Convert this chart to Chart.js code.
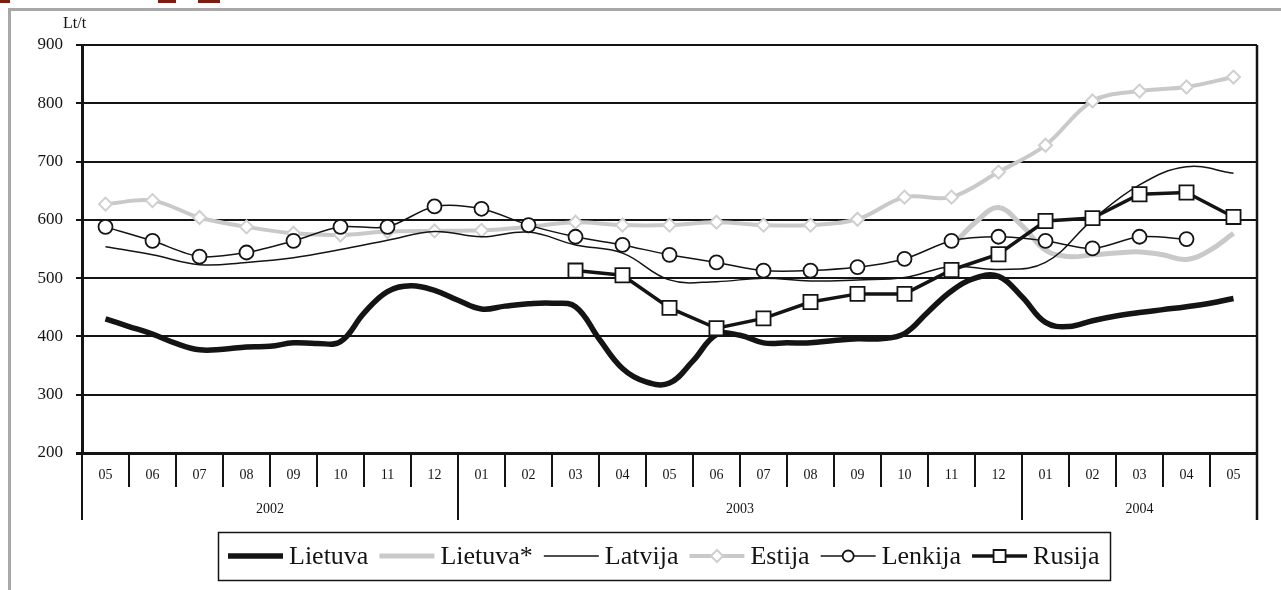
<!DOCTYPE html>
<html>
<head>
<meta charset="utf-8">
<script src="https://cdn.jsdelivr.net/npm/chart.js@4"></script>
<style>
  html, body { margin: 0; padding: 0; background: #fff; }
  #chart { display: block; }
</style>
</head>
<body>
<canvas id="chart" width="1281" height="590"></canvas>
<script>
// Months 2002-05 .. 2004-05
const months = ['05', '06', '07', '08', '09', '10', '11', '12',
    '01', '02', '03', '04', '05', '06', '07', '08', '09', '10', '11', '12',
    '01', '02', '03', '04', '05'];
const yearLabels = ['2002', '2003', '2004'];
const yearStarts = [0, 8, 20];   // index of the first month of each year
const yTicks = [200, 300, 400, 500, 600, 700, 800, 900];

// Lietuva is given twice a month (first value at 2002-05)
const lietuva = [430, 417, 404, 388, 377, 378, 382, 383, 389, 388, 391, 440, 477, 487, 479, 462,
    447, 452, 456, 457, 451, 396, 345, 322, 320, 358, 403, 402, 389, 389, 389, 393,
    396, 396, 405, 442, 478, 500, 503, 468, 424, 417, 427, 435, 441, 446, 451, 457, 465];
// Lietuva* twice a month, starts at 2003-11
const lietuvaStarStart = 18;
const lietuvaStar = [554, 595, 621, 590, 548, 537, 540, 543, 545, 540, 532, 548, 577];

const latvija = [554, 540, 523, 527, 535, 549, 565, 580, 571, 579, 557, 543, 497, 494, 500, 495,
    497, 501, 520, 515, 527, 600, 660, 691, 680];
const estija = [627, 633, 604, 588, 577, 574, 580, 581, 582, 588, 596, 591, 591, 596, 591, 591,
    601, 639, 639, 682, 728, 804, 821, 828, 845];
const lenkija = [588, 564, 537, 544, 564, 588, 588, 623, 619, 591, 571, 557, 540, 527, 513, 513,
    519, 533, 564, 571, 564, 551, 571, 567, null];
const rusija = [null, null, null, null, null, null, null, null, null, null, 513, 505, 449, 414, 431, 459,
    473, 473, 514, 541, 598, 603, 644, 647, 605];

const GRAY = '#c9c9c9';
const INK = '#141414';
const SERIF = '"Liberation Serif", "Times New Roman", serif';

const halfMonth = (arr, start) => arr.map((v, k) => ({ x: start + k / 2, y: v }));
const monthly = arr => arr.map((v, i) => ({ x: i, y: v }));

// axis decoration, legend box and outer frame
const decor = {
    id: 'decor',
    beforeDraw(chart) {
        const ctx = chart.ctx;
        ctx.save();
        ctx.fillStyle = '#fff';
        ctx.fillRect(0, 0, chart.width, chart.height);
        ctx.strokeStyle = '#a8a8a8';
        ctx.lineWidth = 3;
        ctx.beginPath();
        ctx.moveTo(9.5, chart.height);
        ctx.lineTo(9.5, 9.5);
        ctx.lineTo(chart.width, 9.5);
        ctx.stroke();
        // cut-off logo pieces at the very top
        ctx.fillStyle = '#7c1d12';
        ctx.fillRect(0, 0, 10, 3);
        ctx.fillRect(158, 0, 18, 3);
        ctx.fillRect(198, 0, 22, 3);
        ctx.restore();
    },
    afterDraw(chart) {
        const ctx = chart.ctx;
        const xs = chart.scales.x;
        const area = chart.chartArea;
        const bottom = area.bottom;
        ctx.save();
        ctx.strokeStyle = INK;
        ctx.fillStyle = INK;

        // right border of the plot
        ctx.lineWidth = 2.5;
        ctx.beginPath();
        ctx.moveTo(area.right, area.top);
        ctx.lineTo(area.right, bottom + 67);
        ctx.stroke();

        // month separators
        ctx.lineWidth = 2;
        for (let i = 0; i < months.length - 1; i++) {
            const px = Math.round(xs.getPixelForValue(i + 0.5));
            ctx.beginPath();
            ctx.moveTo(px, bottom);
            ctx.lineTo(px, bottom + 34);
            ctx.stroke();
        }
        // year separators
        yearStarts.forEach(s => {
            const px = Math.round(xs.getPixelForValue(s - 0.5));
            ctx.beginPath();
            ctx.moveTo(px, bottom);
            ctx.lineTo(px, bottom + 67);
            ctx.stroke();
        });

        ctx.textAlign = 'center';
        ctx.textBaseline = 'middle';
        ctx.font = '14px ' + SERIF;
        months.forEach((m, i) => ctx.fillText(m, xs.getPixelForValue(i), bottom + 22));
        yearLabels.forEach((y, j) => {
            const from = yearStarts[j];
            const to = j + 1 < yearStarts.length ? yearStarts[j + 1] - 1 : months.length - 1;
            ctx.fillText(y, xs.getPixelForValue((from + to) / 2), bottom + 56);
        });

        // unit
        ctx.textAlign = 'left';
        ctx.font = '16px ' + SERIF;
        ctx.fillText('Lt/t', 63, 24);

        // legend
        ctx.font = '26px ' + SERIF;
        const sample = 55, gapText = 6, gapItem = 11;
        const items = chart.data.datasets.map(ds => ({ ds, w: ctx.measureText(ds.label).width }));
        let total = 0;
        items.forEach((it, k) => { total += sample + gapText + it.w + (k < items.length - 1 ? gapItem : 0); });
        const boxW = Math.round(total + 20);
        const cx = (area.left + area.right) / 2 - 6;
        const boxL = Math.round(cx - boxW / 2);
        const boxT = 532, boxB = 580, my = 556;
        ctx.lineWidth = 1.5;
        ctx.strokeStyle = INK;
        ctx.strokeRect(boxL + 0.5, boxT + 0.5, boxW, boxB - boxT);

        let x = boxL + 10;
        items.forEach(({ ds, w }) => {
            ctx.strokeStyle = ds.borderColor;
            ctx.lineWidth = ds.borderWidth;
            ctx.beginPath();
            ctx.moveTo(x, my);
            ctx.lineTo(x + sample, my);
            ctx.stroke();
            const mx = x + sample / 2;
            if (ds.pointRadius > 0) {
                ctx.fillStyle = '#fff';
                ctx.strokeStyle = ds.pointBorderColor;
                ctx.lineWidth = ds.pointBorderWidth;
                ctx.beginPath();
                if (ds.pointStyle === 'circle') {
                    ctx.arc(mx, my, 5.5, 0, Math.PI * 2);
                } else if (ds.pointStyle === 'rect') {
                    ctx.rect(mx - 6, my - 6, 12, 12);
                } else {
                    ctx.moveTo(mx - 6, my);
                    ctx.lineTo(mx, my - 6);
                    ctx.lineTo(mx + 6, my);
                    ctx.lineTo(mx, my + 6);
                    ctx.closePath();
                }
                ctx.fill();
                ctx.stroke();
            }
            ctx.fillStyle = INK;
            ctx.fillText(ds.label, x + sample + gapText, my + 1);
            x += sample + gapText + w + gapItem;
        });
        ctx.restore();
    }
};

new Chart(document.getElementById('chart'), {
    type: 'line',
    data: {
        datasets: [
            {
                label: 'Lietuva',
                data: halfMonth(lietuva, 0),
                borderColor: INK, borderWidth: 5.5, tension: 0.4,
                pointRadius: 0, order: 1
            },
            {
                label: 'Lietuva*',
                data: halfMonth(lietuvaStar, lietuvaStarStart),
                borderColor: GRAY, borderWidth: 5, tension: 0.4,
                pointRadius: 0, order: 5
            },
            {
                label: 'Latvija',
                data: monthly(latvija),
                borderColor: INK, borderWidth: 1.5, tension: 0.4,
                pointRadius: 0, order: 3
            },
            {
                label: 'Estija',
                data: monthly(estija),
                borderColor: GRAY, borderWidth: 4, tension: 0.35,
                pointStyle: 'rectRot', pointRadius: 6.5,
                pointBackgroundColor: '#fff', pointBorderColor: '#cfcfcf', pointBorderWidth: 2,
                order: 4
            },
            {
                label: 'Lenkija',
                data: monthly(lenkija),
                borderColor: INK, borderWidth: 1.5, tension: 0.3,
                pointStyle: 'circle', pointRadius: 7,
                pointBackgroundColor: '#fff', pointBorderColor: INK, pointBorderWidth: 1.8,
                order: 2
            },
            {
                label: 'Rusija',
                data: monthly(rusija),
                borderColor: INK, borderWidth: 3.5, tension: 0,
                pointStyle: 'rect', pointRadius: 10,
                pointBackgroundColor: '#fff', pointBorderColor: INK, pointBorderWidth: 1.8,
                order: 0
            }
        ]
    },
    options: {
        responsive: false,
        animation: false,
        devicePixelRatio: 1,
        layout: { padding: { left: 0, top: 45, right: 24, bottom: 137 } },
        plugins: {
            legend: { display: false },
            tooltip: { enabled: false }
        },
        elements: { line: { borderCapStyle: 'butt' } },
        scales: {
            x: {
                type: 'linear',
                min: -0.5,
                max: months.length - 0.5,
                display: false
            },
            y: {
                min: 200,
                max: 900,
                afterBuildTicks: scale => { scale.ticks = yTicks.map(v => ({ value: v })); },
                afterFit: scale => { scale.width = 82; },
                ticks: {
                    color: INK,
                    padding: 13,
                    font: { family: SERIF, size: 17 }
                },
                grid: {
                    color: INK,
                    lineWidth: c => (c.tick && c.tick.value === 200 ? 3 : 2),
                    tickLength: 6
                },
                border: { display: true, color: INK, width: 3 }
            }
        }
    },
    plugins: [decor]
});
</script>
</body>
</html>
